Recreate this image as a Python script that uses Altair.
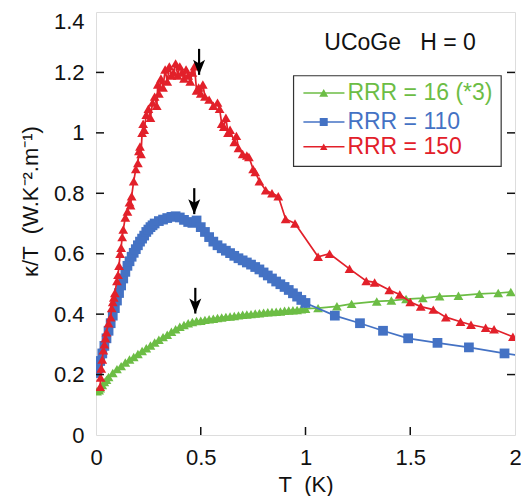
import altair as alt
import pandas as pd

# ---------------- data ----------------
series = ["RRR = 16 (*3)", "RRR = 110", "RRR = 150"]
colors = ["#6cbd45", "#4472c4", "#e2202a"]
shapes = ["triangle-up", "square", "triangle-up"]

T_16 = [0.005, 0.015, 0.02, 0.03, 0.04, 0.05, 0.06, 0.08, 0.10, 0.12, 0.14, 0.16, 0.18, 0.20,
        0.22, 0.24, 0.26, 0.28, 0.30, 0.32, 0.34, 0.36, 0.38, 0.40, 0.42, 0.44, 0.46, 0.48,
        0.50, 0.52, 0.54, 0.56, 0.58, 0.60, 0.62, 0.64, 0.66, 0.68, 0.70, 0.72, 0.74, 0.76,
        0.78, 0.80, 0.82, 0.84, 0.86, 0.88, 0.90, 0.92, 0.94, 0.96, 0.98, 1.00,
        1.06, 1.15, 1.22, 1.34, 1.41, 1.48, 1.56, 1.64, 1.73, 1.83, 1.92, 1.98]
K_16 = [0.145, 0.148, 0.155, 0.165, 0.175, 0.183, 0.192, 0.205, 0.218, 0.228, 0.240, 0.250,
        0.258, 0.268, 0.278, 0.287, 0.296, 0.306, 0.315, 0.324, 0.332, 0.342, 0.350, 0.358,
        0.364, 0.370, 0.374, 0.377, 0.378, 0.381, 0.383, 0.385, 0.387, 0.389, 0.391, 0.392,
        0.394, 0.396, 0.398, 0.399, 0.400, 0.402, 0.403, 0.405, 0.406, 0.407, 0.408, 0.409,
        0.411, 0.412, 0.413, 0.414, 0.416, 0.418,
        0.420, 0.426, 0.434, 0.442, 0.445, 0.450, 0.453, 0.459, 0.461, 0.467, 0.470, 0.473]

T_110 = [0.005, 0.01, 0.02, 0.03, 0.04, 0.05, 0.06, 0.07, 0.08, 0.09, 0.10, 0.11, 0.12, 0.13,
         0.14, 0.15, 0.16, 0.17, 0.18, 0.19, 0.20, 0.21, 0.22, 0.23, 0.24, 0.25, 0.26, 0.27,
         0.28, 0.30, 0.32, 0.34, 0.36, 0.38, 0.40, 0.42, 0.44, 0.46, 0.48, 0.50, 0.52, 0.54,
         0.56, 0.58, 0.60, 0.62, 0.64, 0.66, 0.68, 0.70, 0.72, 0.74, 0.76, 0.78, 0.80, 0.82,
         0.84, 0.86, 0.88, 0.90, 0.92, 0.94, 0.96, 0.98, 1.00,
         1.14, 1.26, 1.37, 1.49, 1.63, 1.78, 1.95, 2.05]
K_110 = [0.205, 0.22, 0.245, 0.27, 0.295, 0.32, 0.345, 0.37, 0.395, 0.42, 0.445, 0.47, 0.495,
         0.518, 0.54, 0.56, 0.575, 0.59, 0.603, 0.615, 0.628, 0.64, 0.65, 0.66, 0.672, 0.68,
         0.688, 0.694, 0.70, 0.708, 0.713, 0.718, 0.722, 0.724, 0.72, 0.712, 0.705, 0.702,
         0.71, 0.688, 0.672, 0.655, 0.64, 0.628, 0.618, 0.61, 0.602, 0.593, 0.585, 0.578,
         0.571, 0.564, 0.556, 0.548, 0.538, 0.528, 0.518, 0.508, 0.499, 0.490, 0.480, 0.469,
         0.458, 0.447, 0.437,
         0.395, 0.37, 0.345, 0.32, 0.305, 0.29, 0.27, 0.26]

T_150 = [0.02, 0.022, 0.025, 0.03, 0.035, 0.04, 0.045, 0.05, 0.06, 0.07,
         0.075, 0.08, 0.085, 0.09, 0.10, 0.105, 0.11, 0.115, 0.12, 0.125,
         0.13, 0.14, 0.15, 0.16, 0.165, 0.17, 0.18, 0.19, 0.20, 0.205,
         0.21, 0.215, 0.22, 0.225, 0.23, 0.24, 0.25, 0.26, 0.27, 0.28,
         0.29, 0.295, 0.30, 0.31, 0.32, 0.33, 0.34, 0.35, 0.36, 0.37,
         0.38, 0.39, 0.40, 0.41, 0.42, 0.43, 0.44, 0.45, 0.46, 0.47,
         0.48, 0.49, 0.50, 0.51, 0.52, 0.54, 0.56, 0.58, 0.59, 0.60,
         0.61, 0.62, 0.63, 0.64, 0.66, 0.67, 0.68, 0.70, 0.72, 0.73,
         0.75, 0.76, 0.78, 0.81, 0.84, 0.87, 0.905, 0.95, 1.06, 1.115,
         1.21, 1.29, 1.33, 1.40, 1.45, 1.50, 1.55, 1.61, 1.67, 1.74,
         1.79, 1.86, 1.90, 1.99]
K_150 = [0.16, 0.19, 0.22, 0.25, 0.28, 0.30, 0.32, 0.34, 0.37, 0.39,
         0.42, 0.44, 0.455, 0.47, 0.51, 0.53, 0.56, 0.60, 0.62, 0.655,
         0.68, 0.72, 0.74, 0.77, 0.76, 0.79, 0.84, 0.88, 0.90, 0.94,
         0.955, 0.93, 1.00, 1.03, 1.01, 1.06, 1.08, 1.05, 1.10, 1.12,
         1.09, 1.16, 1.13, 1.18, 1.15, 1.21, 1.17, 1.22, 1.19, 1.20,
         1.23, 1.19, 1.22, 1.20, 1.18, 1.21, 1.19, 1.17, 1.20, 1.22,
         1.14, 1.15, 1.13, 1.16, 1.12, 1.11, 1.09, 1.10, 1.08, 1.03,
         1.02, 1.05, 1.00, 1.01, 0.97, 0.99, 0.95, 0.93, 0.925, 0.92,
         0.88, 0.87, 0.84, 0.81, 0.80, 0.79, 0.715, 0.70, 0.59, 0.60,
         0.55, 0.51, 0.505, 0.48, 0.465, 0.44, 0.425, 0.415, 0.39, 0.375,
         0.365, 0.355, 0.35, 0.325]

x_ticks = [0, 0.5, 1, 1.5, 2]
y_ticks = [0, 0.2, 0.4, 0.6, 0.8, 1.0, 1.2, 1.4]

# transition arrows (T position, arrow top, arrow tip)
arrow_T = [0.492, 0.469, 0.474]
arrow_top = [1.278, 0.817, 0.487]
arrow_tip = [1.192, 0.731, 0.402]

header_text = "UCoGe\u00a0\u00a0\u00a0H = 0"

# ---------------- layout / style ----------------
W, H = 419, 423
FONT = "Liberation Sans"
TICK = 8

assert len(T_16) == len(K_16) and len(T_110) == len(K_110) and len(T_150) == len(K_150)

rows = []
for name, Ts, Ks in zip(series, [T_16, T_110, T_150], [K_16, K_110, K_150]):
    for i, (t, k) in enumerate(zip(Ts, Ks)):
        rows.append({"series": name, "T": t, "k": k, "idx": i})
df = pd.DataFrame(rows)

x_scale = alt.Scale(domain=[0, 2], nice=False, zero=False)
y_scale = alt.Scale(domain=[0, 1.4], nice=False, zero=False)
color_scale = alt.Scale(domain=series, range=colors)
shape_scale = alt.Scale(domain=series, range=shapes)

x_axis = alt.Axis(values=x_ticks, format="~g", ticks=False, domain=False, grid=False,
                  labelFlush=False, labelFontSize=22, labelPadding=12, labelColor="#111",
                  title="T\u00a0\u00a0(K)", titleFontSize=22, titleFontWeight="normal",
                  titleColor="#111", titleY=56, titleBaseline="alphabetic")
y_axis = alt.Axis(values=y_ticks, format="~g", ticks=False, domain=False, grid=False,
                  labelFlush=False, labelFontSize=22, labelPadding=12, labelColor="#111",
                  labelOffset={"condition": {"test": "datum.value > 1.39", "value": 9}, "value": 0},
                  title="\u03ba/T\u00a0\u00a0(W.K\u207b\u00b2.m\u207b\u00b9)", titleFontSize=22,
                  titleFontWeight="normal", titleColor="#111", titleAngle=270,
                  titleX=-66, titleY=189, titleAlign="center", titleBaseline="middle")


def X(field="T"):
    return alt.X(f"{field}:Q", scale=x_scale, axis=x_axis)


def Y(field="k"):
    return alt.Y(f"{field}:Q", scale=y_scale, axis=y_axis)


color = alt.Color("series:N", scale=color_scale, legend=None)
shape = alt.Shape("series:N", scale=shape_scale, legend=None)

sizes = {series[0]: 95, series[1]: 95, series[2]: 95}

layers = []
for name in series:
    base = alt.Chart(df).transform_filter(alt.datum.series == name)
    layers.append(base.mark_line(strokeWidth=1.7, clip=True).encode(
        x=X(), y=Y(), color=color, order="idx:Q"))
    layers.append(base.mark_point(filled=True, opacity=1, size=sizes[name], clip=True).encode(
        x=X(), y=Y(), color=color, shape=shape))

# inward ticks
xt = alt.Chart(pd.DataFrame({"T": x_ticks[1:-1]})).mark_rule(color="#111", strokeWidth=1.5).encode(
    x=X(), y=alt.value(H), y2=alt.value(H - TICK))
yt_df = pd.DataFrame({"k": y_ticks[1:-1]})
ytl = alt.Chart(yt_df).mark_rule(color="#111", strokeWidth=1.5).encode(
    y=Y(), x=alt.value(0), x2=alt.value(TICK))
ytr = alt.Chart(yt_df).mark_rule(color="#111", strokeWidth=1.5).encode(
    y=Y(), x=alt.value(W), x2=alt.value(W - TICK))

# arrows
arr_df = pd.DataFrame({"T": arrow_T, "k": arrow_tip, "k_top": arrow_top})
arr_line = alt.Chart(arr_df).mark_rule(color="black", strokeWidth=2.2).encode(
    x=X(), y=Y(), y2=alt.Y2("k_top:Q"))
arr_head = alt.Chart(arr_df).mark_point(
    shape="M-1,-1.5L0,1L1,-1.5L0,-0.9Z", filled=True, color="black", opacity=1,
    size=144, yOffset=-6).encode(x=X(), y=Y())

# header text
hdr = alt.Chart(pd.DataFrame({"T": [1.09], "k": [1.298], "t": [header_text]})).mark_text(
    align="left", baseline="middle", fontSize=23, font=FONT, color="#111").encode(
    x=X(), y=Y(), text="t:N")

# legend box
leg_box = alt.Chart(pd.DataFrame({"T": [0.943], "T2": [1.934], "k": [1.189], "k2": [0.889]})).mark_rect(
    fill="white", stroke="#333", strokeWidth=1.2).encode(
    x=X(), x2=alt.X2("T2:Q"), y=Y(), y2=alt.Y2("k2:Q"))
leg_df = pd.DataFrame({"series": series, "k": [1.132, 1.036, 0.954],
                       "T": [0.99] * 3, "T2": [1.186] * 3, "Tm": [1.087] * 3, "Tt": [1.20] * 3,
                       "sz": [80, 64, 55]})
leg_line = alt.Chart(leg_df).mark_rule(strokeWidth=1.6).encode(
    x=X(), x2=alt.X2("T2:Q"), y=Y(), color=color)
leg_pts = alt.Chart(leg_df).mark_point(filled=True, opacity=1).encode(
    x=X("Tm"), y=Y(), color=color, shape=shape, size=alt.Size("sz:Q", scale=None))
leg_txt = alt.Chart(leg_df).mark_text(align="left", baseline="middle", fontSize=23, font=FONT).encode(
    x=X("Tt"), y=Y(), color=color, text="series:N")

chart = alt.layer(
    *layers, xt, ytl, ytr, arr_line, arr_head, hdr, leg_box, leg_line, leg_pts, leg_txt
).properties(
    width=W, height=H,
    padding={"left": 88, "top": 4, "right": 6, "bottom": 61},
    autosize=alt.AutoSizeParams(type="none"),
).configure_view(
    stroke="#111", strokeWidth=1.6
).configure(
    font=FONT
).configure_axis(
    labelFont=FONT, titleFont=FONT
)

chart.save("out.html", embed_options={"renderer": "svg", "actions": False})
